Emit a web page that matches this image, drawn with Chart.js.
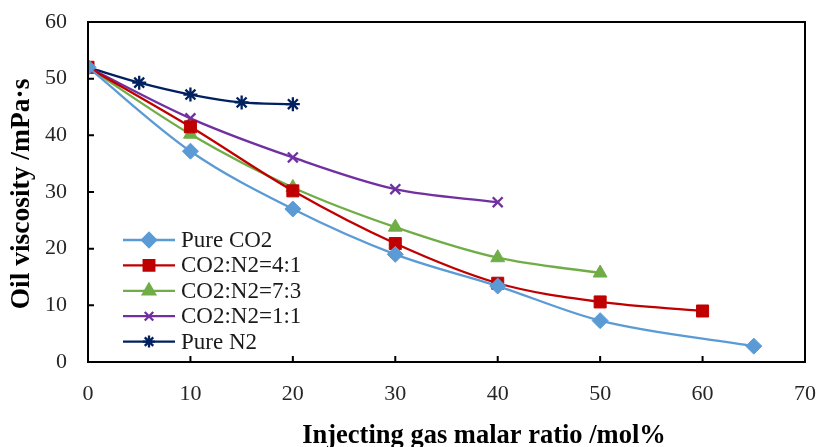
<!DOCTYPE html>
<html>
<head>
<meta charset="utf-8">
<script src="https://cdn.jsdelivr.net/npm/chart.js@4.4.0/dist/chart.umd.min.js"></script>
<style>
  html, body { margin: 0; padding: 0; background: #fff; }
  #wrap { width: 818px; height: 447px; position: relative; }
</style>
</head>
<body>
<div id="wrap"><canvas id="chart"></canvas></div>
<script>
// values
const xTicks = [0, 10, 20, 30, 40, 50, 60, 70];
const yTicks = [0, 10, 20, 30, 40, 50, 60];

const seriesNames = ["Pure CO2", "CO2:N2=4:1", "CO2:N2=7:3", "CO2:N2=1:1", "Pure N2"];

const pureCO2X = [0, 10, 20, 30, 40, 50, 65];
const pureCO2Y = [52, 37.2, 27, 19, 13.4, 7.3, 2.8];

const ratio41X = [0, 10, 20, 30, 40, 50, 60];
const ratio41Y = [52, 41.5, 30.2, 20.9, 13.9, 10.6, 9.0];

const ratio73X = [0, 10, 20, 30, 40, 50];
const ratio73Y = [52, 40.2, 30.8, 23.8, 18.4, 15.7];

const ratio11X = [0, 10, 20, 30, 40];
const ratio11Y = [52, 43, 36.1, 30.5, 28.2];

const pureN2X = [0, 5, 10, 15, 20];
const pureN2Y = [52, 49.3, 47.2, 45.8, 45.5];

const colors = ["#5B9BD5", "#C00000", "#70AD47", "#7030A0", "#002060"];
const markers = ["rectRot", "rect", "triangle", "crossRot", "star"];
const markerSize = [8, 8.5, 8, 7, 7];

const serif = "'Liberation Serif', 'DejaVu Serif', serif";

function pairs(xs, ys) {
  return xs.map((x, i) => ({ x: x, y: ys[i] }));
}

const allX = [pureCO2X, ratio41X, ratio73X, ratio11X, pureN2X];
const allY = [pureCO2Y, ratio41Y, ratio73Y, ratio11Y, pureN2Y];

const datasets = seriesNames.map((name, i) => ({
  label: name,
  data: pairs(allX[i], allY[i]),
  borderColor: colors[i],
  backgroundColor: colors[i],
  borderWidth: 2.3,
  pointStyle: markers[i],
  pointRadius: markerSize[i],
  pointBorderWidth: markers[i] == "crossRot" || markers[i] == "star" ? 2.3 : 1,
  pointBorderColor: colors[i],
  pointBackgroundColor: colors[i],
  cubicInterpolationMode: "monotone",
  fill: false,
}));

// drop the extra room chart.js keeps for edge labels
function noEdgePadding(s) {
  s.paddingLeft = 0;
  s.paddingRight = 0;
  s.paddingTop = 0;
  s.paddingBottom = 0;
}

// frame, inner tick marks, legend and axis titles
const decorations = {
  id: "decorations",
  afterDraw(chart) {
    const { ctx, chartArea: a, scales } = chart;
    ctx.save();
    ctx.strokeStyle = "#000";
    ctx.lineWidth = 2;
    ctx.strokeRect(a.left, a.top, a.right - a.left, a.bottom - a.top);

    // tick marks pointing inward
    ctx.beginPath();
    xTicks.forEach((v) => {
      const px = scales.x.getPixelForValue(v);
      ctx.moveTo(px, a.bottom);
      ctx.lineTo(px, a.bottom - 6);
    });
    yTicks.forEach((v) => {
      const py = scales.y.getPixelForValue(v);
      ctx.moveTo(a.left, py);
      ctx.lineTo(a.left + 6, py);
    });
    ctx.stroke();

    // legend inside the plot
    const lx = 123, ly = 240, row = 25.4;
    seriesNames.forEach((name, i) => {
      const y = ly + i * row;
      ctx.strokeStyle = colors[i];
      ctx.fillStyle = colors[i];
      ctx.lineWidth = 2.3;
      ctx.beginPath();
      ctx.moveTo(lx, y);
      ctx.lineTo(lx + 52, y);
      ctx.stroke();
      Chart.helpers.drawPoint(ctx, {
        pointStyle: markers[i],
        radius: markerSize[i] - 1,
        borderWidth: markers[i] == "crossRot" || markers[i] == "star" ? 2.3 : 1,
        rotation: 0,
      }, lx + 26, y);
      ctx.fillStyle = "#1a1a1a";
      ctx.font = "23px " + serif;
      ctx.textBaseline = "middle";
      ctx.textAlign = "left";
      ctx.fillText(name, lx + 58, y + 1);
    });

    // axis titles
    ctx.fillStyle = "#000";
    ctx.font = "bold 26.5px " + serif;
    ctx.textAlign = "center";
    ctx.textBaseline = "alphabetic";
    ctx.fillText("Injecting gas malar ratio /mol%", 484, 443);

    ctx.font = "bold 27.5px " + serif;
    ctx.translate(22, 194);
    ctx.rotate(-Math.PI / 2);
    ctx.textBaseline = "middle";
    ctx.fillText("Oil viscosity /mPa·s", 0, 0);
    ctx.restore();
  },
};

const ctx = document.getElementById("chart").getContext("2d");
const chart = new Chart(ctx, {
  type: "line",
  data: { datasets: datasets },
  options: {
    responsive: true,
    maintainAspectRatio: false,
    animation: false,
    layout: { padding: { top: 22, right: 13, left: 0, bottom: 0 } },
    plugins: {
      legend: { display: false },
      tooltip: { enabled: false },
    },
    scales: {
      x: {
        type: "linear",
        min: 0,
        max: 70,
        afterFit: (s) => { s.height = 85; noEdgePadding(s); },
        afterBuildTicks: (s) => { s.ticks = xTicks.map((v) => ({ value: v })); },
        grid: { display: false, drawTicks: false },
        border: { display: false },
        ticks: { padding: 19, color: "#262626", font: { family: serif, size: 22 } },
      },
      y: {
        min: 0,
        max: 60,
        afterFit: (s) => { s.width = 88; noEdgePadding(s); },
        afterBuildTicks: (s) => { s.ticks = yTicks.map((v) => ({ value: v })); },
        grid: { display: false, drawTicks: false },
        border: { display: false },
        ticks: { padding: 21, color: "#262626", font: { family: serif, size: 22 } },
      },
    },
  },
  plugins: [decorations],
});
</script>
</body>
</html>
